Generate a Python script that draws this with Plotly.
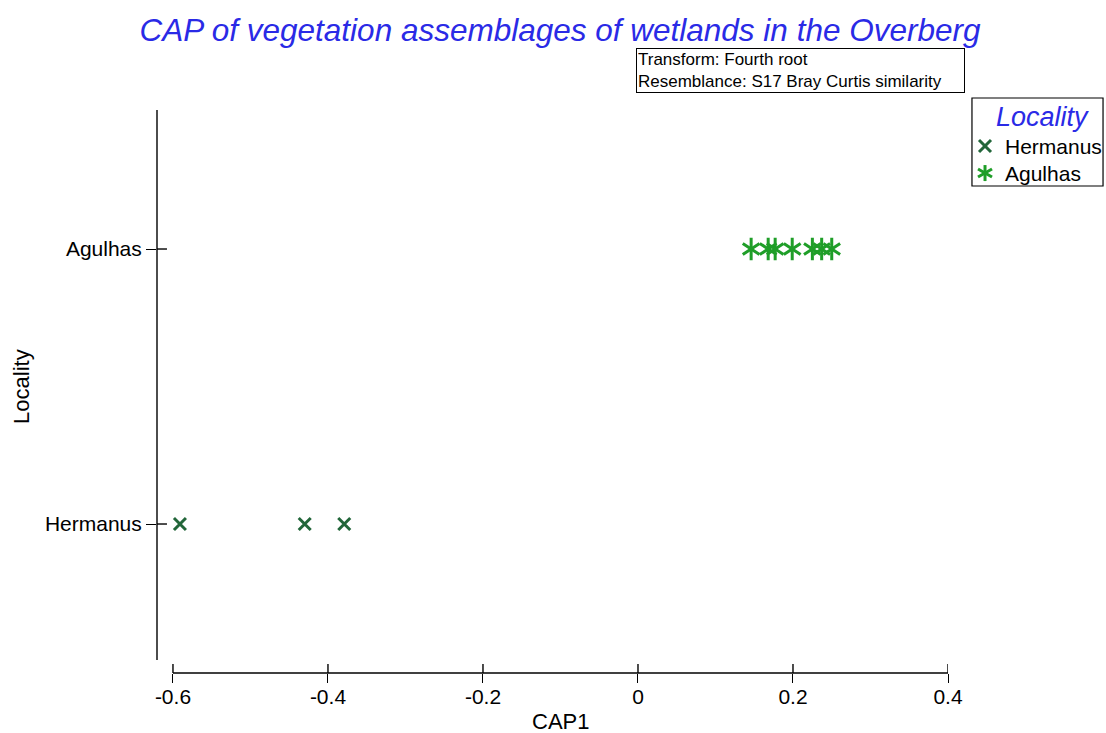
import plotly.graph_objects as go

categories = ["Hermanus", "Agulhas"]
hermanus_cap1 = [-0.591, -0.430, -0.379]
agulhas_cap1 = [0.146, 0.168, 0.177, 0.199, 0.225, 0.237, 0.250]
x_ticks = [-0.6, -0.4, -0.2, 0, 0.2, 0.4]
x_ticktext = ["-0.6", "-0.4", "-0.2", "0", "0.2", "0.4"]

cat_pos = {c: i for i, c in enumerate(categories)}
colors = {"Hermanus": "#22663a", "Agulhas": "#1f9e28"}
values = {"Hermanus": hermanus_cap1, "Agulhas": agulhas_cap1}

fig = go.Figure()
# Hermanus: x markers
fig.add_trace(go.Scatter(
    x=values["Hermanus"], y=[cat_pos["Hermanus"]] * len(values["Hermanus"]),
    mode="markers", name="Hermanus", showlegend=False,
    marker=dict(symbol="x-thin-open", size=12, color=colors["Hermanus"],
                line=dict(width=3, color=colors["Hermanus"])),
))
# Agulhas: six-armed asterisk (y-up + y-down overlaid)
for sym in ["y-up-open", "y-down-open"]:
    fig.add_trace(go.Scatter(
        x=values["Agulhas"], y=[cat_pos["Agulhas"]] * len(values["Agulhas"]),
        mode="markers", name="Agulhas", showlegend=False,
        marker=dict(symbol=sym, size=14, color=colors["Agulhas"],
                    line=dict(width=3, color=colors["Agulhas"])),
    ))

font = "Arial, Liberation Sans, sans-serif"

# axis lines and crossing ticks
shapes = [
    dict(type="line", xref="x", yref="paper", x0=x_ticks[0], x1=x_ticks[-1], y0=0, y1=0,
         line=dict(color="black", width=1.4)),
    dict(type="line", xref="paper", yref="y", x0=0, x1=0, y0=-0.4945, y1=1.5055,
         line=dict(color="black", width=1.4)),
    dict(type="rect", xref="paper", yref="paper", x0=1.0303, x1=1.196, y0=0.865, y1=1.0213,
         line=dict(color="black", width=1.2), fillcolor="white", layer="below"),
]
for t in x_ticks:
    shapes.append(dict(type="line", xref="x", yref="paper", x0=t, x1=t, y0=0, y1=0.016,
                       line=dict(color="black", width=1.4)))
for c in categories:
    shapes.append(dict(type="line", xref="paper", yref="y", x0=0, x1=0.0126,
                       y0=cat_pos[c], y1=cat_pos[c], line=dict(color="black", width=1.4)))

# custom legend symbols drawn as pixel-sized line shapes
leg_order = ["Hermanus", "Agulhas"]
leg_y = [0.936, 0.888]
leg_x_sym = 1.0468
leg_x_txt = 1.0695
arms = {
    "Hermanus": [(-6, -6, 6, 6), (-6, 6, 6, -6)],
    "Agulhas": [(0, -8, 0, 8), (-7, -4, 7, 4), (-7, 4, 7, -4)],
}
for c, yy in zip(leg_order, leg_y):
    for (a0, b0, a1, b1) in arms[c]:
        shapes.append(dict(type="line", xref="paper", yref="paper",
                           xsizemode="pixel", ysizemode="pixel",
                           xanchor=leg_x_sym, yanchor=yy,
                           x0=a0, x1=a1, y0=b0, y1=b1,
                           line=dict(color=colors[c], width=3)))

annotations = [
    dict(xref="paper", yref="paper", x=0.6056, y=1.110, xanchor="left", yanchor="top",
         text="Transform: Fourth root<br>Resemblance: S17 Bray Curtis similarity",
         align="left", width=325, showarrow=False, bordercolor="black", borderwidth=1,
         borderpad=1, bgcolor="white", font=dict(size=17, color="black")),
    dict(xref="paper", yref="paper", x=0.5095, y=-0.087, xanchor="center",
         yanchor="middle", text="CAP1", showarrow=False, font=dict(size=22)),
    dict(xref="paper", yref="paper", x=-0.1707, y=0.5098, xanchor="center",
         yanchor="middle", text="Locality", textangle=-90, showarrow=False,
         font=dict(size=22)),
    dict(xref="paper", yref="paper", x=1.119, y=0.9876, xanchor="center",
         yanchor="middle", text="<i>Locality</i>", showarrow=False,
         font=dict(size=27, color="#2a2ae6")),
]
for c, yy in zip(leg_order, leg_y):
    annotations.append(dict(xref="paper", yref="paper", x=leg_x_txt, y=yy,
                            xanchor="left", yanchor="middle", text=c,
                            showarrow=False, font=dict(size=21)))

fig.update_layout(
    width=1106, height=733,
    margin=dict(l=157, r=158, t=110, b=60, autoexpand=False),
    paper_bgcolor="white", plot_bgcolor="white",
    font=dict(family=font, size=21, color="black"),
    showlegend=False,
    title=dict(text="<i>CAP of vegetation assemblages of wetlands in the Overberg</i>",
               x=0.5063, xanchor="center", y=0.959, yanchor="middle",
               font=dict(family=font, size=31.5, color="#2a2ae6")),
    xaxis=dict(range=[-0.6206, 0.4], tickvals=x_ticks, ticktext=x_ticktext,
               showgrid=False, zeroline=False, showline=False,
               ticks="outside", ticklen=9, tickwidth=1.4, tickcolor="black",
               tickfont=dict(size=21), ticklabelstandoff=-4),
    yaxis=dict(range=[-0.5418, 1.5055], tickvals=[cat_pos[c] for c in categories],
               ticktext=categories, showgrid=False, zeroline=False, showline=False,
               ticks="outside", ticklen=10, tickwidth=1.4, tickcolor="black",
               tickfont=dict(size=21)),
    shapes=shapes,
    annotations=annotations,
)

fig.write_html("out.html")
